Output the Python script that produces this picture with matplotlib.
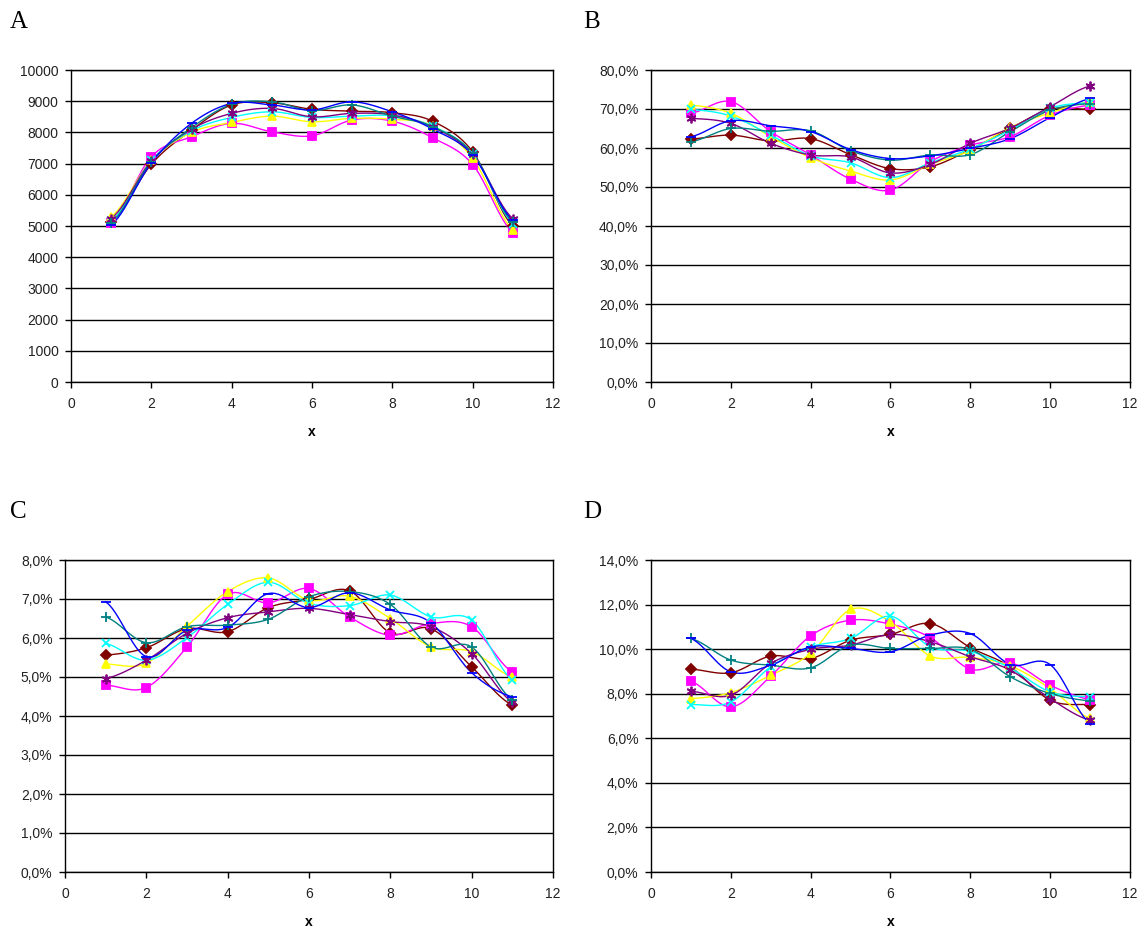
import numpy as np
import matplotlib
matplotlib.use("Agg")
import matplotlib.pyplot as plt
from matplotlib.ticker import FuncFormatter

x = [1, 2, 3, 4, 5, 6, 7, 8, 9, 10, 11]

# series order: dark red, magenta, yellow, cyan, purple, teal, blue
colors = ["#800000", "#FF00FF", "#FFFF00", "#00FFFF", "#800080", "#008080", "#0000FF"]
markers = ["D", "s", "^", "x", (6, 2, 0), "+", "_"]
msizes = [5, 6, 6, 6, 7, 7, 7]

a_vals = [
    [5130, 6980, 8070, 8880, 8950, 8740, 8680, 8630, 8360, 7380, 5000],
    [5100, 7220, 7860, 8290, 8020, 7890, 8400, 8360, 7830, 6970, 4790],
    [5300, 7100, 8000, 8320, 8520, 8340, 8450, 8420, 8220, 7170, 4870],
    [5150, 7100, 8050, 8480, 8660, 8480, 8520, 8530, 8200, 7320, 5080],
    [5240, 7080, 8100, 8610, 8770, 8500, 8610, 8560, 8170, 7300, 5240],
    [5100, 7060, 8150, 8900, 8980, 8700, 8880, 8520, 8180, 7330, 5120],
    [5030, 7020, 8290, 8930, 8880, 8720, 8980, 8660, 8110, 7270, 5190],
]

b_vals = [
    [62.3, 63.3, 61.8, 62.4, 58.3, 54.7, 55.2, 59.6, 65.0, 69.9, 69.9],
    [68.9, 71.9, 64.2, 58.2, 52.0, 49.2, 56.5, 60.7, 62.9, 68.4, 71.0],
    [71.0, 68.9, 62.9, 57.5, 54.1, 51.8, 55.8, 59.4, 65.3, 69.0, 71.9],
    [69.9, 68.2, 63.3, 58.0, 56.2, 52.4, 56.2, 59.8, 64.6, 70.2, 71.6],
    [67.6, 66.3, 61.2, 58.2, 57.7, 53.6, 55.8, 61.2, 65.1, 70.6, 75.9],
    [61.6, 65.0, 64.3, 64.4, 59.3, 56.9, 58.2, 58.3, 64.2, 69.7, 71.4],
    [62.9, 67.0, 65.7, 64.2, 59.6, 57.3, 58.0, 59.9, 62.4, 67.8, 72.7],
]

c_vals = [
    [5.56, 5.75, 6.24, 6.16, 6.78, 6.99, 7.21, 6.13, 6.24, 5.26, 4.28],
    [4.79, 4.73, 5.77, 7.12, 6.90, 7.27, 6.54, 6.07, 6.37, 6.29, 5.13],
    [5.33, 5.35, 6.30, 7.19, 7.54, 6.97, 7.07, 6.50, 5.77, 5.65, 5.00],
    [5.86, 5.43, 6.01, 6.86, 7.43, 6.89, 6.83, 7.10, 6.54, 6.46, 4.92],
    [4.96, 5.43, 6.12, 6.52, 6.67, 6.76, 6.60, 6.42, 6.29, 5.60, 4.36],
    [6.54, 5.88, 6.29, 6.33, 6.48, 7.06, 7.19, 6.86, 5.77, 5.77, 4.41],
    [6.93, 5.52, 6.20, 6.27, 7.14, 6.78, 7.16, 6.72, 6.39, 5.11, 4.49],
]

d_vals = [
    [9.10, 8.94, 9.69, 9.58, 10.40, 10.66, 11.15, 10.07, 9.21, 7.71, 7.51],
    [8.56, 7.41, 8.79, 10.60, 11.30, 11.12, 10.52, 9.10, 9.39, 8.38, 7.74],
    [7.78, 8.05, 8.83, 9.81, 11.78, 11.23, 9.69, 9.63, 9.25, 8.23, 6.89],
    [7.51, 7.63, 9.21, 10.10, 10.48, 11.48, 10.10, 9.90, 9.15, 8.08, 7.86],
    [8.11, 7.93, 9.36, 9.99, 10.18, 10.66, 10.33, 9.66, 9.06, 7.78, 6.81],
    [10.48, 9.51, 9.28, 9.16, 10.18, 10.03, 10.03, 9.99, 8.76, 8.01, 7.68],
    [10.48, 8.98, 9.28, 10.10, 10.03, 9.88, 10.63, 10.70, 9.31, 9.31, 6.66],
]


def smooth(xs, ys, n=12):
    # Catmull-Rom style smoothing like Excel's "smoothed line"
    xs = np.asarray(xs, float)
    ys = np.asarray(ys, float)
    px = np.concatenate([[2 * xs[0] - xs[1]], xs, [2 * xs[-1] - xs[-2]]])
    py = np.concatenate([[ys[0]], ys, [ys[-1]]])
    ox, oy = [], []
    t = np.linspace(0, 1, n, endpoint=False)
    for i in range(1, len(px) - 2):
        p0, p1, p2, p3 = py[i - 1], py[i], py[i + 1], py[i + 2]
        q0, q1, q2, q3 = px[i - 1], px[i], px[i + 1], px[i + 2]
        for arr, a0, a1, a2, a3 in ((ox, q0, q1, q2, q3), (oy, p0, p1, p2, p3)):
            arr.extend(0.5 * (2 * a1 + (-a0 + a2) * t + (2 * a0 - 5 * a1 + 4 * a2 - a3) * t ** 2
                              + (-a0 + 3 * a1 - 3 * a2 + a3) * t ** 3))
    ox.append(xs[-1])
    oy.append(ys[-1])
    return ox, oy


W, H = 1142, 932
fig = plt.figure(figsize=(W / 100, H / 100), dpi=100)
plt.rcParams['font.family'] = ['Liberation Sans', 'DejaVu Sans']


def make_ax(l, r, t, b):
    return fig.add_axes([l / W, 1 - b / H, (r - l) / W, (b - t) / H])


panels = [
    ("A", a_vals, (71, 553, 70, 382), 10000, 1000, lambda v, p: "%d" % v, (10, 22)),
    ("B", b_vals, (651, 1130, 70, 382), 80, 10, lambda v, p: ("%.1f%%" % v).replace(".", ","), (583, 22)),
    ("C", c_vals, (65, 553, 560, 872), 8, 1, lambda v, p: ("%.1f%%" % v).replace(".", ","), (10, 512)),
    ("D", d_vals, (651, 1130, 560, 872), 14, 2, lambda v, p: ("%.1f%%" % v).replace(".", ","), (583, 512)),
]

for letter, vals, box, ymax, ystep, fmt, lpos in panels:
    ax = make_ax(*box)
    for ys, c, m, ms in zip(vals, colors, markers, msizes):
        sx, sy = smooth(x, ys)
        ax.plot(sx, sy, color=c, lw=1, zorder=3)
        ax.plot(x, ys, ls="none", marker=m, color=c, ms=ms, mew=1.3, zorder=4)
    ax.set_xlim(0, 12)
    ax.set_ylim(0, ymax)
    ax.set_xticks(range(0, 13, 2))
    ax.set_yticks(np.arange(0, ymax + ystep / 2, ystep))
    ax.yaxis.set_major_formatter(FuncFormatter(fmt))
    ax.grid(axis="y", color="black", lw=1)
    ax.set_axisbelow(True)
    for s in ax.spines.values():
        s.set_color("black")
        s.set_linewidth(1)
    ax.tick_params(direction="out", length=4, width=1, colors="black", labelsize=10,
                   labelcolor="#222222")
    ax.tick_params(axis="x", pad=7)
    ax.tick_params(axis="y", pad=5)
    ax.set_xlabel("x", fontsize=10, fontweight="bold", labelpad=10)
    fig.text(lpos[0] / W, 1 - lpos[1] / H, letter, family="Liberation Serif",
             fontsize=18, va="center", ha="left")

fig.savefig("out.png", dpi=100)
